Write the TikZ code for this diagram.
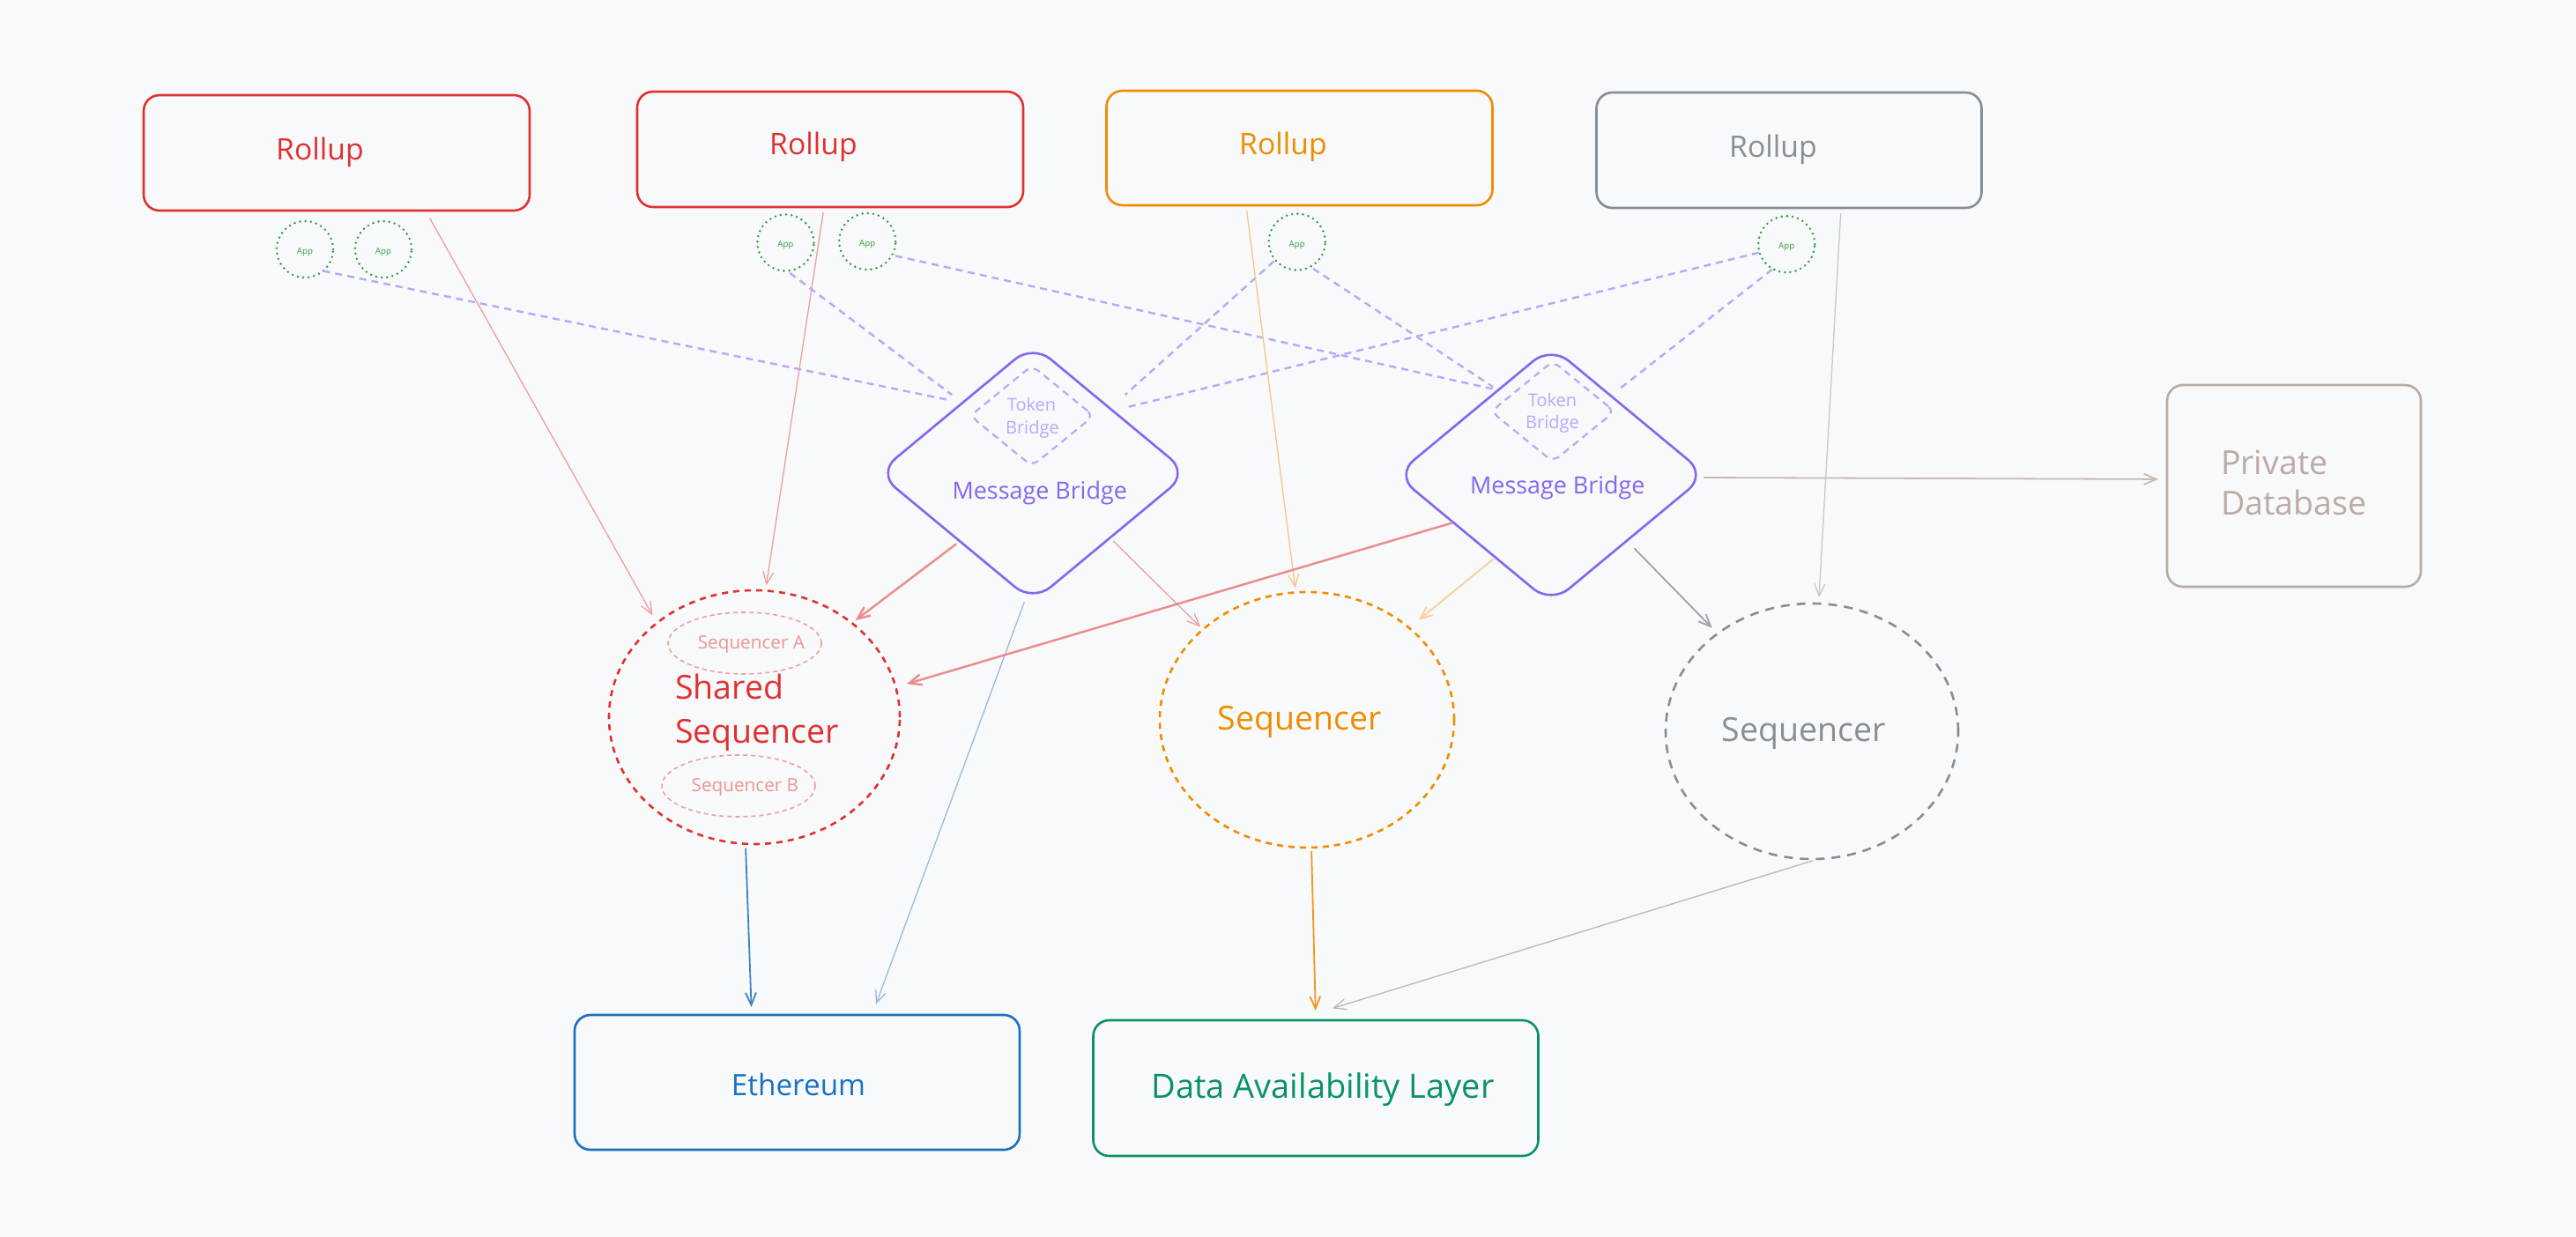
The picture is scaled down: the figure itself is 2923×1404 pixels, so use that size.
\documentclass[tikz,border=0pt]{standalone}
\usepackage{fontspec}
\setmainfont{Open Sans}
\usetikzlibrary{arrows.meta,shapes.geometric}
\definecolor{bg}{HTML}{F8F9FA}
\definecolor{cred}{HTML}{E03131}
\definecolor{corange}{HTML}{F08C00}
\definecolor{cgray}{HTML}{868E96}
\definecolor{cgreen}{HTML}{2F9E44}
\definecolor{cblue}{HTML}{1971C2}
\definecolor{cteal}{HTML}{099268}
\definecolor{cviolet}{HTML}{8566F0}
\definecolor{clviolet}{HTML}{B9A8FA}
\definecolor{cbrown}{HTML}{BBAAA5}
\begin{document}
\begin{tikzpicture}[x=1pt,y=-1pt,
  rbox/.style={draw, rectangle, rounded corners=18pt, line width=2.6pt, inner sep=0pt, outer sep=0pt},
  app/.style={draw=cgreen, circle, line width=2.8pt, line cap=round, dash pattern=on 0pt off 6.2pt, minimum size=64pt, inner sep=0pt, outer sep=0pt},
  seq/.style={ellipse, line width=2.6pt, dash pattern=on 7pt off 6pt, inner sep=0pt, outer sep=0pt},
  bridge/.style={diamond, draw=cviolet, line width=2.6pt, rounded corners=26pt, minimum width=352pt, minimum height=292pt, inner sep=0pt, outer sep=0pt},
  tbridge/.style={diamond, draw=clviolet, line width=2.2pt, dash pattern=on 8pt off 6pt, rounded corners=9pt, minimum width=140pt, minimum height=114pt, inner sep=0pt, outer sep=0pt},
  lnk/.style={draw=clviolet, line width=2.4pt, dash pattern=on 8pt off 6pt},
  arr/.style={-{Straight Barb[length=14pt,width=12pt]}},
  txt/.style={inner sep=0pt, outer sep=0pt, anchor=base},
  fRoll/.style={font=\fontsize{33.7}{40}\selectfont},
  fMsg/.style={font=\fontsize{26.9}{32}\selectfont},
  fTok/.style={font=\fontsize{20}{24}\selectfont},
  fSeq/.style={font=\fontsize{37.5}{44}\selectfont},
  fSmall/.style={font=\fontsize{20.7}{24}\selectfont},
  fApp/.style={font=\fontsize{9.7}{11}\selectfont},
]
\fill[bg] (0,0) rectangle (2923,1404);
\useasboundingbox (0,0) rectangle (2923,1404);

% Rollups
\node[rbox, draw=cred, minimum width=438pt, minimum height=131pt] (r1) at (382,173.5) {};
\node[rbox, draw=cred, minimum width=438pt, minimum height=131pt] (r2) at (942,169.5) {};
\node[rbox, draw=corange, minimum width=438pt, minimum height=130pt] (r3) at (1474.5,168) {};
\node[rbox, draw=cgray, minimum width=437pt, minimum height=131pt] (r4) at (2030,170.5) {};
\node[txt, fRoll, text=cred] (t1) at (363,181.7) {Rollup};
\node[txt, fRoll, text=cred] (t2) at (923,176) {Rollup};
\node[txt, fRoll, text=corange] (t3) at (1456,176) {Rollup};
\node[txt, fRoll, text=cgray] (t4) at (2012,178.3) {Rollup};

% Apps
\node[app] (a1) at (346,283) {};
\node[app] (a2) at (435,283) {};
\node[app] (a3) at (891.4,275.5) {};
\node[app] (a4) at (984.2,274) {};
\node[app] (a5) at (1471.7,274.5) {};
\node[app] (a6) at (2027.2,277.2) {};
\node[txt, fApp, text=cgreen] (ta1) at (346,289) {App};
\node[txt, fApp, text=cgreen] (ta2) at (435,289) {App};
\node[txt, fApp, text=cgreen] (ta3) at (891.4,281) {App};
\node[txt, fApp, text=cgreen] (ta4) at (984.2,280) {App};
\node[txt, fApp, text=cgreen] (ta5) at (1471.7,280.5) {App};
\node[txt, fApp, text=cgreen] (ta6) at (2027.2,283) {App};

% Bridges
\node[bridge] (mb1) at (1172,537) {};
\node[bridge] (mb2) at (1760,539) {};
\node[tbridge] (tb1) at (1171,472) {};
\node[tbridge] (tb2) at (1762,467) {};
\node[txt, fTok, text=clviolet] (tt1a) at (1170.5,466.7) {Token};
\node[txt, fTok, text=clviolet] (tt1b) at (1171.4,492.3) {Bridge};
\node[txt, fTok, text=clviolet] (tt2a) at (1761.5,461.7) {Token};
\node[txt, fTok, text=clviolet] (tt2b) at (1761.5,486.7) {Bridge};
\node[txt, fMsg, text=cviolet] (tm1) at (1179.7,566.7) {Message Bridge};
\node[txt, fMsg, text=cviolet] (tm2) at (1767.3,560) {Message Bridge};

% Sequencers
\node[seq, draw=cred, minimum width=330pt, minimum height=288pt] (ss) at (856,814) {};
\node[seq, draw=cred!45!bg, line width=1.6pt, dash pattern=on 5pt off 4pt, minimum width=174pt, minimum height=70pt] (sa) at (845,730) {};
\node[seq, draw=cred!45!bg, line width=1.6pt, dash pattern=on 5pt off 4pt, minimum width=174pt, minimum height=70pt] (sb) at (838,892) {};
\node[txt, fSmall, text=cred!50!bg] (tsa) at (852.4,736) {Sequencer A};
\node[txt, fSmall, text=cred!50!bg] (tsb) at (845.4,898.3) {Sequencer B};
\node[txt, fSeq, text=cred, anchor=base west] (tss1) at (766,793) {Shared};
\node[txt, fSeq, text=cred, anchor=base west] (tss2) at (766,843) {Sequencer};
\node[seq, draw=corange, minimum width=334pt, minimum height=290pt] (os) at (1483,817) {};
\node[txt, fSeq, text=corange] (tos) at (1474.5,828.3) {Sequencer};
\node[seq, draw=cgray, dash pattern=on 10pt off 8pt, minimum width=332pt, minimum height=290pt] (gs) at (2056,830) {};
\node[txt, fSeq, text=cgray] (tgs) at (2046.5,841.7) {Sequencer};

% Private database
\node[rbox, draw=cbrown, minimum width=288pt, minimum height=229pt] (pd) at (2603,551.5) {};
\node[txt, fSeq, text=cbrown, anchor=base west] (tpd1) at (2520,538.3) {Private};
\node[txt, fSeq, text=cbrown, anchor=base west] (tpd2) at (2520,584) {Database};

% Bottom layers
\node[rbox, draw=cblue, minimum width=505pt, minimum height=153pt] (eth) at (904.5,1228.5) {};
\node[txt, font=\fontsize{33.3}{40}\selectfont, text=cblue] (teth) at (906,1243.3) {Ethereum};
\node[rbox, draw=cteal, minimum width=505pt, minimum height=154pt] (da) at (1493,1235) {};
\node[txt, font=\fontsize{38}{44}\selectfont, text=cteal] (tda) at (1501,1246.7) {Data Availability Layer};

% Dashed app links
\draw[lnk] (a1.-50) -- (mb1.135.3) [shorten >=15pt];
\draw[lnk, shorten <=4pt, shorten >=15pt] (a3.-87.5) -- (mb1.135.3);
\draw[lnk, shorten <=4pt, shorten >=6pt] (a4.-29.1) -- (mb2.122.4);
\draw[lnk, shorten <=2pt, shorten >=23pt] (a5.-140) -- (mb1.40.5);
\draw[lnk, shorten <=4pt, shorten >=7pt] (a5.-62.7) -- (mb2.122);
\draw[lnk, shorten <=1pt, shorten >=18pt] (a6.-163.4) -- (mb1.38.3);
\draw[lnk, shorten <=1pt, shorten >=12pt] (a6.-119) -- (mb2.53.9);

% Arrows
\draw[arr, draw=cred!45!bg, line width=1.3pt, shorten <=10pt, shorten >=10pt] (r1.-33.5) -- (ss.136.9);
\draw[arr, draw=cred!45!bg, line width=1.3pt, shorten <=6pt, shorten >=6pt] (r2.-96.2) -- (ss.85);
\draw[arr, draw=corange!45!bg, line width=1.3pt, shorten <=6pt, shorten >=5pt] (r3.-133.8) -- (os.95);
\draw[arr, draw=cgray!45!bg, line width=1.3pt, shorten <=6pt, shorten >=7pt] (r4.-48.3) -- (gs.87.4);
\draw[arr, draw=cred!55!bg, line width=2.4pt, shorten <=5pt, shorten >=5pt] (mb1.-137) -- (ss.44.5);
\draw[arr, draw=cred!45!bg, line width=1.3pt, shorten <=5pt, shorten >=4pt] (mb1.-40.3) -- (os.139.8);
\draw[arr, draw=cblue!45!bg, line width=1.3pt, shorten <=7pt, shorten >=13pt] (mb1.-93.4) -- (eth.42.4);
\draw[arr, draw=cred!55!bg, line width=2.4pt, shorten <=1pt, shorten >=13pt] (mb2.-154.3) -- (ss.12.4);
\draw[arr, draw=corange!35!bg, line width=2pt, shorten <=3pt, shorten >=14pt] (mb2.-124.1) -- (os.42.1);
\draw[arr, draw=cgray!80!bg, line width=1.8pt, shorten <=12pt, shorten >=9pt] (mb2.-41) -- (gs.134.4);
\draw[arr, draw=cbrown!80!bg, line width=1.8pt, shorten <=1pt, shorten >=10pt] (mb2.-1.4) -- (pd.177.6);
\draw[arr, draw=cblue!85!bg, line width=1.8pt, shorten <=5pt, shorten >=9pt] (ss.-94.3) -- (eth.124);
\draw[arr, draw=corange!90!bg, line width=1.8pt, shorten <=4pt, shorten >=11pt] (os.-88.1) -- (da.90);
\draw[arr, draw=cgray!60!bg, line width=1.3pt, shorten <=7pt, shorten >=46pt] (gs.-87.7) -- (da.108.7);
\end{tikzpicture}
\end{document}
